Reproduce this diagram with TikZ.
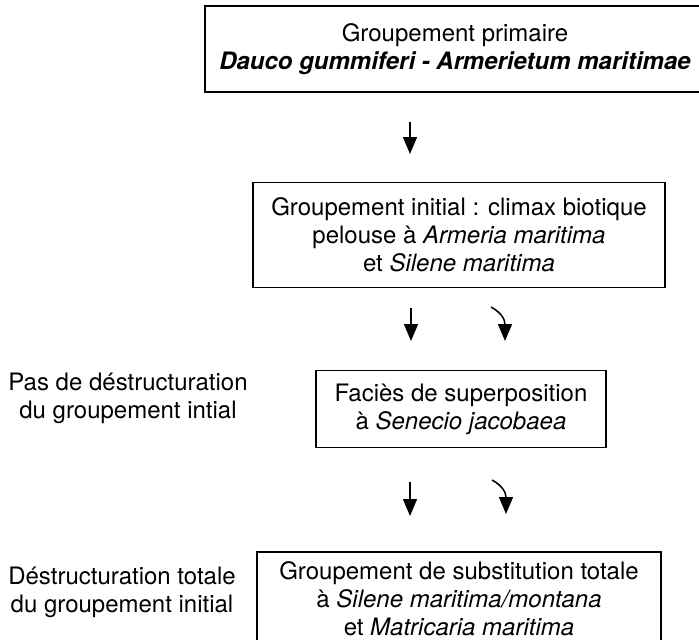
\documentclass[tikz,border=0pt]{standalone}
\usepackage{fontspec}
\setmainfont{TeX Gyre Heros}
\usetikzlibrary{arrows.meta}
\begin{document}
\begin{tikzpicture}[x=1pt,y=-1pt,
  txt/.style={inner sep=0pt, align=center, font=\fontsize{24}{28}\selectfont},
  box/.style={txt, draw, line width=1.1pt},
  arr/.style={line width=1.5pt, -{Triangle[length=17pt,width=14pt]}}]
\useasboundingbox (0,0) rectangle (699,640);
% boxes
\node[box, minimum width=500pt, minimum height=86pt] (b1) at (455,49)
  {Groupement primaire\\ \textbf{\textit{Dauco gummiferi - Armerietum maritimae}}};
\node[box, minimum width=412pt, minimum height=105pt] (b2) at (459,235)
  {Groupement initial : climax biotique\\ pelouse à \textit{Armeria maritima}\\ et \textit{Silene maritima}};
\node[box, minimum width=290pt, minimum height=77pt] (b3) at (461,409)
  {Faciès de superposition\\ à \textit{Senecio jacobaea}};
\node[box, minimum width=404pt, minimum height=92pt] (b4) at (459,598) {};
\node[txt] (b4t) at ([yshift=-1pt]b4.center)
  {Groupement de substitution totale\\ à \textit{Silene maritima/montana}\\ et \textit{Matricaria maritima}};
% side labels
\node[txt] (l1) at (128,398) {Pas de déstructuration\\ du groupement intial};
\node[txt] (l2) at (122,592) {Déstructuration totale\\ du groupement initial};
% arrows
\coordinate (s1a) at (410,122); \coordinate (s1b) at (410,154);
\coordinate (s2a) at (411,308); \coordinate (s2b) at (411,341);
\coordinate (c2a) at (491,307); \coordinate (c2b) at (505,341);
\coordinate (s3a) at (410,482); \coordinate (s3b) at (410,516);
\coordinate (c3a) at (492,480); \coordinate (c3b) at (506,514);
\draw[arr] (s1a) -- (s1b);
\draw[arr] (s2a) -- (s2b);
\draw[arr] (c2a) .. controls (502,313) and (505,320) .. (c2b);
\draw[arr] (s3a) -- (s3b);
\draw[arr] (c3a) .. controls (503,486) and (506,493) .. (c3b);
\end{tikzpicture}
\end{document}
